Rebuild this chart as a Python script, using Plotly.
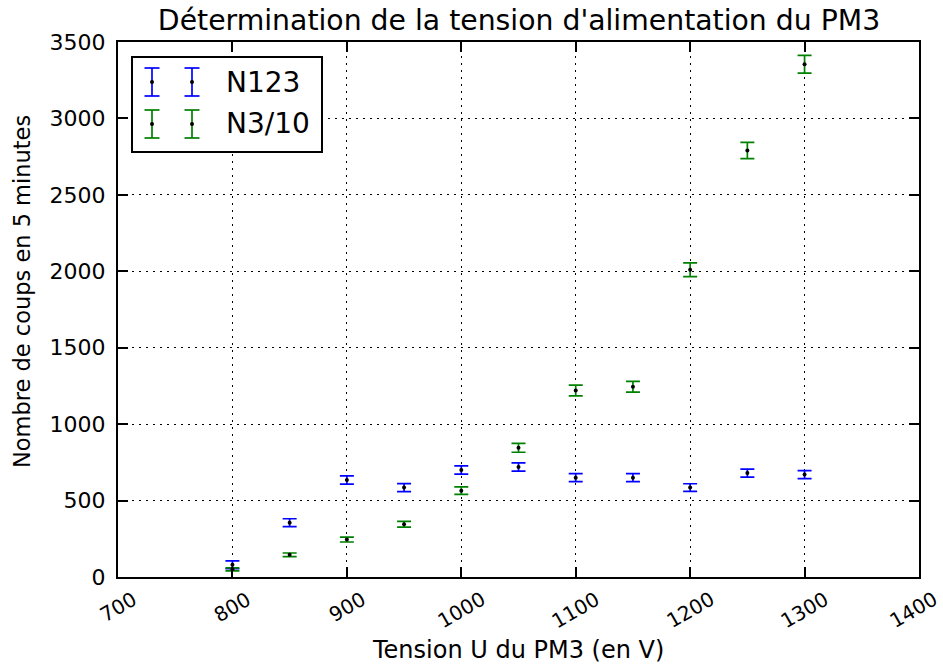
import plotly.graph_objects as go

# ---- data ----
tension = [800, 850, 900, 950, 1000, 1050, 1100, 1150, 1200, 1250, 1300]
n123 = [80, 355, 635, 585, 700, 720, 650, 650, 585, 680, 670]
n123_err = [26, 26, 27, 26, 27, 27, 26, 26, 25, 26, 26]
n3_10 = [50, 145, 245, 345, 565, 845, 1220, 1245, 2010, 2790, 3355]
n3_10_err = [10, 12, 16, 19, 24, 29, 35, 35, 45, 53, 58]
series_names = ["N123", "N3/10"]
x_ticks = [700, 800, 900, 1000, 1100, 1200, 1300, 1400]
y_ticks = [0, 500, 1000, 1500, 2000, 2500, 3000, 3500]

BLUE = "#0000ff"
GREEN = "#008000"
FONT = "DejaVu Sans"

W, H = 943, 668
L, R, T, B = 118, 24, 42, 91
PW, PH = W - L - R, H - T - B

fig = go.Figure()
for name, ys, es, col in [(series_names[0], n123, n123_err, BLUE),
                          (series_names[1], n3_10, n3_10_err, GREEN)]:
    fig.add_trace(go.Scatter(
        x=tension, y=ys, mode="markers", name=name, showlegend=False,
        marker=dict(color="black", size=4),
        error_y=dict(type="data", array=es, visible=True, color=col,
                     thickness=1.7, width=7),
    ))

def px2x(px):
    return (px - L) / PW

def px2y(py):
    return (H - B - py) / PH

shapes = []
annotations = []
# legend box
shapes.append(dict(type="rect", xref="paper", yref="paper",
                   x0=px2x(132), x1=px2x(322), y0=px2y(152), y1=px2y(57),
                   line=dict(color="black", width=2), fillcolor="white", layer="above"))
for row_y, col, name in [(82, BLUE, series_names[0]), (124, GREEN, series_names[1])]:
    for gx in (152, 192):
        shapes.append(dict(type="line", xref="paper", yref="paper",
                           x0=px2x(gx), x1=px2x(gx), y0=px2y(row_y - 14), y1=px2y(row_y + 14),
                           line=dict(color=col, width=1.7), layer="above"))
        for cy in (row_y - 14, row_y + 14):
            shapes.append(dict(type="line", xref="paper", yref="paper",
                               x0=px2x(gx - 7.5), x1=px2x(gx + 7.5), y0=px2y(cy), y1=px2y(cy),
                               line=dict(color=col, width=1.7), layer="above"))
        shapes.append(dict(type="circle", xref="paper", yref="paper",
                           x0=px2x(gx - 2), x1=px2x(gx + 2), y0=px2y(row_y + 2), y1=px2y(row_y - 2),
                           line=dict(color="black", width=0), fillcolor="black", layer="above"))
    annotations.append(dict(text=name, xref="paper", yref="paper", x=px2x(224), y=px2y(row_y),
                            xanchor="left", yanchor="middle", showarrow=False,
                            font=dict(family=FONT, size=28, color="black")))

# rotated x tick labels (matplotlib-style, centred under each tick)
for v in x_ticks:
    annotations.append(dict(text=str(v), xref="x", yref="paper", x=v, y=px2y(584),
                            xanchor="center", yanchor="top", showarrow=False,
                            xshift=-6 if v == x_ticks[-1] else 0,
                            textangle=-30, font=dict(family=FONT, size=20, color="black")))

# axis titles
annotations.append(dict(text="Tension U du PM3 (en V)", xref="paper", yref="paper",
                        x=px2x(518), y=px2y(650), xanchor="center", yanchor="middle", showarrow=False,
                        font=dict(family=FONT, size=24, color="black")))
annotations.append(dict(text="Nombre de coups en 5 minutes", xref="paper", yref="paper",
                        x=px2x(22), y=px2y(292), xanchor="center", yanchor="middle", showarrow=False,
                        textangle=-90, font=dict(family=FONT, size=22.5, color="black")))

axis_common = dict(showline=True, linecolor="black", linewidth=2, mirror="ticks",
                   ticks="inside", ticklen=10, tickwidth=1.5, tickcolor="black",
                   showgrid=True, gridcolor="black", gridwidth=1.4, griddash="2px,5px",
                   zeroline=False, tickfont=dict(family=FONT, size=22, color="black"))

fig.update_layout(
    width=W, height=H, autosize=False,
    margin=dict(l=L, r=R, t=T, b=B),
    paper_bgcolor="white", plot_bgcolor="white",
    title=dict(text="Détermination de la tension d'alimentation du PM3",
               x=519 / W, xanchor="center",
               y=1 - 20 / H, yanchor="middle", yref="container",
               font=dict(family=FONT, size=28.3, color="black")),
    xaxis=dict(range=[700, 1400], tickvals=x_ticks, showticklabels=False, **axis_common),
    yaxis=dict(range=[0, 3500], tickvals=y_ticks, ticktext=[str(v) for v in y_ticks],
               ticklabelstandoff=6, **axis_common),
    shapes=shapes, annotations=annotations,
    showlegend=False,
)

fig.write_html("out.html")
